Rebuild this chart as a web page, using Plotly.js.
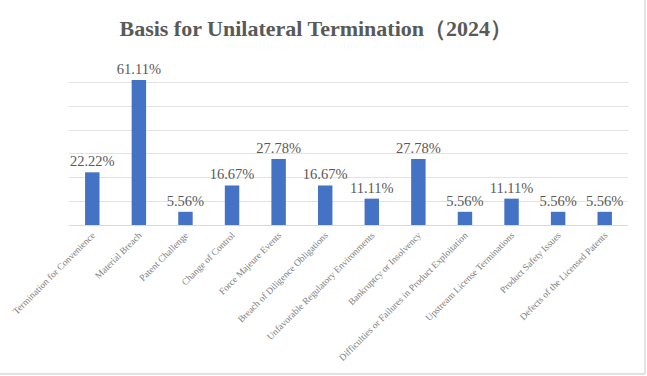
<!DOCTYPE html>
<html>
<head>
<meta charset="utf-8">
<script src="https://cdn.plot.ly/plotly-3.0.1.min.js"></script>
<style>html,body{margin:0;padding:0;background:#fff;}#chart{width:647px;height:376px;}</style>
</head>
<body>
<div id="chart"></div>
<script>
const categories = ["Termination for Convenience","Material Breach","Patent Challenge","Change of Control","Force Majeure Events","Breach of Diligence Obligations","Unfavorable Regulatory Environments","Bankruptcy or Insolvency","Difficulties or Failures in Product Exploitation","Upstream License Terminations","Product Safety Issues","Defects of the Licensed Patents"];
const values = [22.22, 61.11, 5.56, 16.67, 27.78, 16.67, 11.11, 27.78, 5.56, 11.11, 5.56, 5.56];
const titleText = "Basis for Unilateral Termination（2024）";

const serif = "Liberation Serif, Times New Roman, serif";
const grey = "#595959";

const trace = {
  type: "bar",
  x: categories,
  y: values,
  marker: {color: "#4472C4"},
  text: values.map(v => v.toFixed(2) + "%"),
  textposition: "outside",
  constraintext: "none",
  textfont: {family: serif, size: 14.5, color: grey},
  cliponaxis: false,
  hoverinfo: "none"
};

const layout = {
  width: 647, height: 376,
  margin: {l: 69, r: 19, t: 59, b: 151},
  paper_bgcolor: "#fff", plot_bgcolor: "#fff",
  bargap: 0.69,
  showlegend: false,
  title: {text: "<b>" + titleText + "</b>", x: 0.488, xref: "container", xanchor: "center", y: 0.925, yref: "container", yanchor: "middle",
          font: {family: serif, size: 22, color: grey}},
  xaxis: {
    type: "category",
    tickangle: -45,
    tickfont: {family: serif, size: 9.5, color: "#808080"},
    showline: true, linecolor: "#d9d9d9", linewidth: 1,
    ticks: "", showgrid: false, automargin: false
  },
  yaxis: {
    range: [0, 70], dtick: 10,
    showticklabels: false, showgrid: true, gridcolor: "#e3e3e3", gridwidth: 1,
    zeroline: false, showline: false, ticks: "", fixedrange: true
  },
  shapes: [
    {type: "line", xref: "paper", yref: "paper", x0: 1.0304, x1: 1.0304, y0: -0.8976, y1: 1.4, line: {color: "#d9d9d9", width: 1.5}},
    {type: "line", xref: "paper", yref: "paper", x0: -0.2, x1: 1.0304, y0: -0.8976, y1: -0.8976, line: {color: "#d9d9d9", width: 1.5}}
  ]
};

Plotly.newPlot("chart", [trace], layout, {staticPlot: true, displayModeBar: false});
</script>
</body>
</html>
